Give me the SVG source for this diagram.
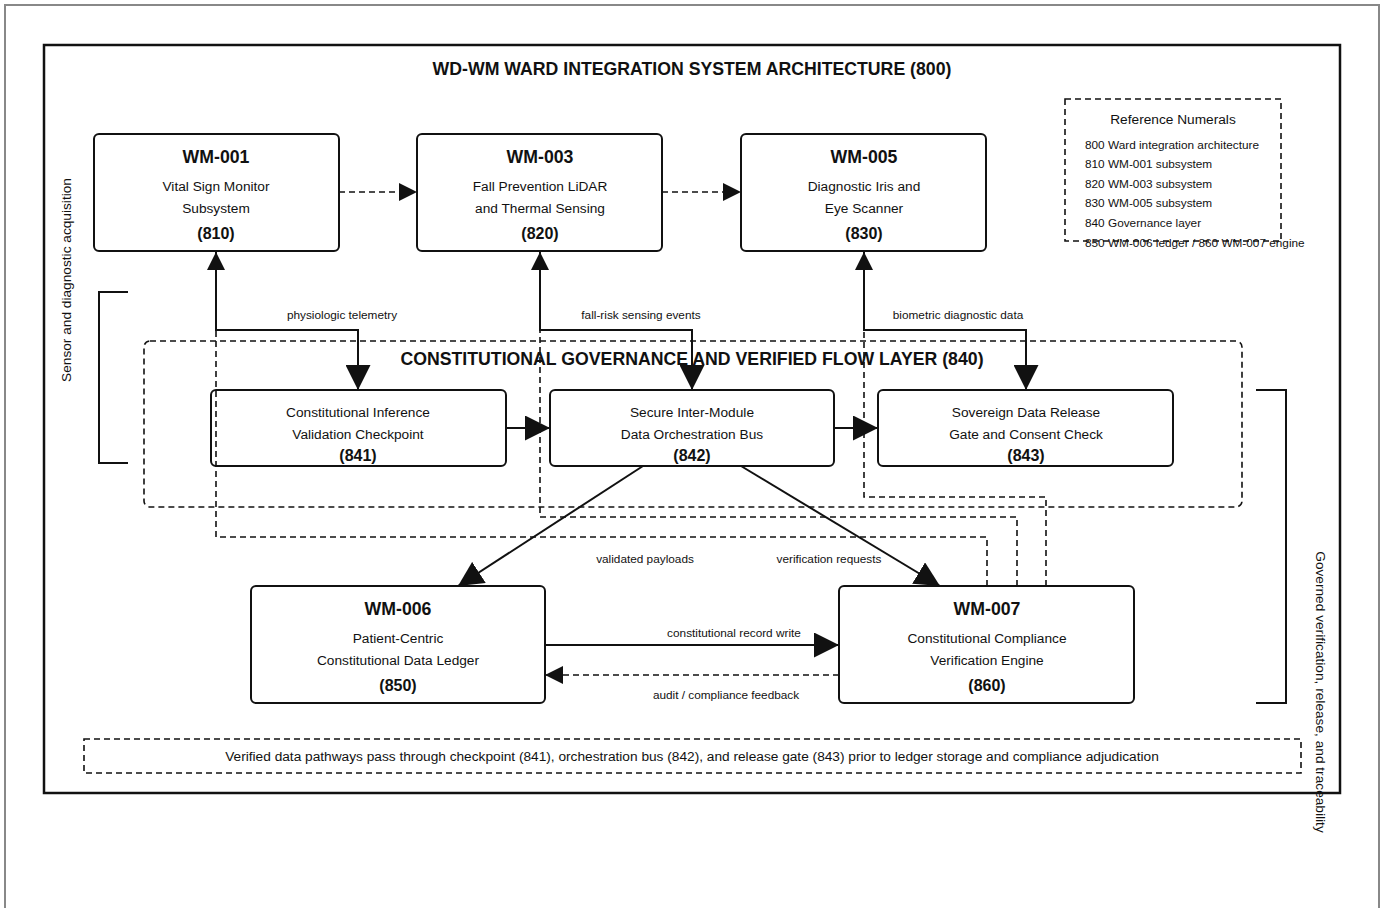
<svg xmlns="http://www.w3.org/2000/svg" width="1386" height="908" viewBox="0 0 1386 908">
<defs>
<style>
text{font-family:"Liberation Sans",Arial,sans-serif;fill:#111;dominant-baseline:central;text-anchor:middle}
.box{fill:#fff;stroke:#111;stroke-width:2}
.t{font-size:17.7px;font-weight:bold}
.d{font-size:13.7px}
.n{font-size:16px;font-weight:bold}
.lbl{font-size:11.8px}
.solid{fill:none;stroke:#111;stroke-width:2}
.dash{fill:none;stroke:#111;stroke-width:1.6;stroke-dasharray:6 4}
</style>
<marker id="ab" markerUnits="userSpaceOnUse" markerWidth="25" markerHeight="25" refX="25" refY="12.5" orient="auto"><path d="M0,0 L25,12.5 L0,25 z" fill="#111"/></marker>
<marker id="as" markerUnits="userSpaceOnUse" markerWidth="18" markerHeight="18" refX="18" refY="9" orient="auto"><path d="M0,0 L18,9 L0,18 z" fill="#111"/></marker>
</defs>
<rect x="0" y="0" width="1386" height="908" fill="#fff"/>
<rect x="5" y="5" width="1374" height="920" fill="none" stroke="#888" stroke-width="2"/>
<rect x="44" y="45" width="1296" height="748" fill="none" stroke="#111" stroke-width="2.5"/>
<text x="692" y="69" class="t">WD-WM WARD INTEGRATION SYSTEM ARCHITECTURE (800)</text>

<g id="layer840">
<rect x="144" y="341" width="1098" height="166" rx="6" fill="none" stroke="#111" stroke-width="1.6" stroke-dasharray="6 4"/>
</g>

<g id="connectors">
<path class="dash" d="M987,586 V537 H216 V252"/>
<path class="dash" d="M1017,586 V517 H540 V252"/>
<path class="dash" d="M1046,586 V497 H864 V252"/>
<path class="dash" d="M339,192 H417" marker-end="url(#as)"/>
<path class="dash" d="M662,192 H741" marker-end="url(#as)"/>
<path class="solid" d="M358,390 V330 H216 V252" marker-end="url(#as)"/>
<path class="solid" d="M216,330 H358 V390" marker-end="url(#ab)"/>
<path class="solid" d="M692,390 V330 H540 V252" marker-end="url(#as)"/>
<path class="solid" d="M540,330 H692 V390" marker-end="url(#ab)"/>
<path class="solid" d="M1026,390 V330 H864 V252" marker-end="url(#as)"/>
<path class="solid" d="M864,330 H1026 V390" marker-end="url(#ab)"/>
<path class="solid" d="M506,428 H550" marker-end="url(#ab)"/>
<path class="solid" d="M834,428 H878" marker-end="url(#ab)"/>
<path class="solid" d="M643,466 L458,586" marker-end="url(#ab)"/>
<path class="solid" d="M741,466 L940,586" marker-end="url(#ab)"/>
<path class="solid" d="M545,645 H839" marker-end="url(#ab)"/>
<path class="dash" d="M839,675 H545" marker-end="url(#as)"/>
<text x="342" y="315" class="lbl">physiologic telemetry</text>
<text x="641" y="315" class="lbl">fall-risk sensing events</text>
<text x="958" y="315" class="lbl">biometric diagnostic data</text>
<text x="645" y="559" class="lbl">validated payloads</text>
<text x="829" y="559" class="lbl">verification requests</text>
<text x="734" y="633" class="lbl">constitutional record write</text>
<text x="726" y="695" class="lbl">audit / compliance feedback</text>
</g>

<text x="692" y="359" class="t">CONSTITUTIONAL GOVERNANCE AND VERIFIED FLOW LAYER (840)</text>

<g id="wm001">
<rect class="box" x="94" y="134" width="245" height="117" rx="5"/>
<text x="216" y="157" class="t">WM-001</text>
<text x="216" y="186" class="d">Vital Sign Monitor</text>
<text x="216" y="208" class="d">Subsystem</text>
<text x="216" y="233" class="n">(810)</text>
</g>
<g id="wm003">
<rect class="box" x="417" y="134" width="245" height="117" rx="5"/>
<text x="540" y="157" class="t">WM-003</text>
<text x="540" y="186" class="d">Fall Prevention LiDAR</text>
<text x="540" y="208" class="d">and Thermal Sensing</text>
<text x="540" y="233" class="n">(820)</text>
</g>
<g id="wm005">
<rect class="box" x="741" y="134" width="245" height="117" rx="5"/>
<text x="864" y="157" class="t">WM-005</text>
<text x="864" y="186" class="d">Diagnostic Iris and</text>
<text x="864" y="208" class="d">Eye Scanner</text>
<text x="864" y="233" class="n">(830)</text>
</g>
<g id="n841">
<rect x="211" y="390" width="295" height="76" rx="5" fill="none" stroke="#111" stroke-width="2"/>
<text x="358" y="412" class="d">Constitutional Inference</text>
<text x="358" y="434" class="d">Validation Checkpoint</text>
<text x="358" y="455" class="n">(841)</text>
</g>
<g id="n842">
<rect x="550" y="390" width="284" height="76" rx="5" fill="#fff" stroke="#111" stroke-width="2"/>
<text x="692" y="412" class="d">Secure Inter-Module</text>
<text x="692" y="434" class="d">Data Orchestration Bus</text>
<text x="692" y="455" class="n">(842)</text>
</g>
<g id="n843">
<rect x="878" y="390" width="295" height="76" rx="5" fill="#fff" stroke="#111" stroke-width="2"/>
<text x="1026" y="412" class="d">Sovereign Data Release</text>
<text x="1026" y="434" class="d">Gate and Consent Check</text>
<text x="1026" y="455" class="n">(843)</text>
</g>
<g id="wm006">
<rect class="box" x="251" y="586" width="294" height="117" rx="5"/>
<text x="398" y="609" class="t">WM-006</text>
<text x="398" y="638" class="d">Patient-Centric</text>
<text x="398" y="660" class="d">Constitutional Data Ledger</text>
<text x="398" y="685" class="n">(850)</text>
</g>
<g id="wm007">
<rect class="box" x="839" y="586" width="295" height="117" rx="5"/>
<text x="987" y="609" class="t">WM-007</text>
<text x="987" y="638" class="d">Constitutional Compliance</text>
<text x="987" y="660" class="d">Verification Engine</text>
<text x="987" y="685" class="n">(860)</text>
</g>

<g id="refnumerals">
<rect x="1065" y="99" width="216" height="142" fill="none" stroke="#111" stroke-width="1.6" stroke-dasharray="6 4"/>
<text x="1173" y="119" class="d">Reference Numerals</text>
<g style="font-size:11.8px">
<text x="1085" y="145" style="text-anchor:start">800 Ward integration architecture</text>
<text x="1085" y="164" style="text-anchor:start">810 WM-001 subsystem</text>
<text x="1085" y="184" style="text-anchor:start">820 WM-003 subsystem</text>
<text x="1085" y="203" style="text-anchor:start">830 WM-005 subsystem</text>
<text x="1085" y="223" style="text-anchor:start">840 Governance layer</text>
<text x="1085" y="243" style="text-anchor:start">850 WM-006 ledger / 860 WM-007 engine</text>
</g>
</g>

<g id="brackets">
<path class="solid" d="M128,292 H99 V463 H128" stroke-width="1.6"/>
<path class="solid" d="M1256,390 H1286 V703 H1256" stroke-width="1.6"/>
<text x="66" y="280" class="d" transform="rotate(-90 66 280)">Sensor and diagnostic acquisition</text>
<text x="1320" y="692" class="d" transform="rotate(90 1320 692)">Governed verification, release, and traceability</text>
</g>

<g id="note">
<rect x="84" y="739" width="1217" height="34" fill="none" stroke="#111" stroke-width="1.6" stroke-dasharray="6 4"/>
<text x="692" y="756" class="d">Verified data pathways pass through checkpoint (841), orchestration bus (842), and release gate (843) prior to ledger storage and compliance adjudication</text>
</g>
</svg>
